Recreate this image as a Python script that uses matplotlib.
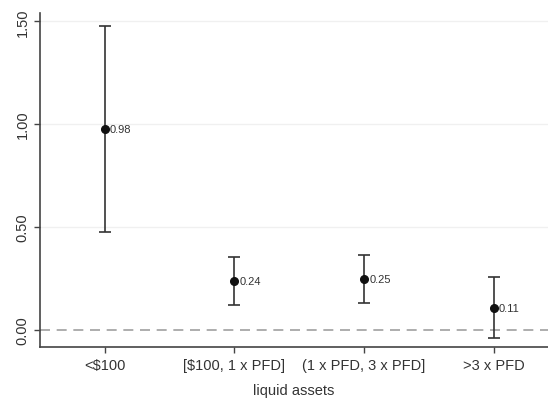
import matplotlib.pyplot as plt
import numpy as np

plt.rcParams['font.family'] = ['Liberation Sans', 'DejaVu Sans']

# -------------------- Data ----------------------- #
categories = ['<$100', '[$100, 1 x PFD]', '(1 x PFD, 3 x PFD]', '>3 x PFD']
estimates = [0.975, 0.237, 0.245, 0.107]
ci_low = [0.474, 0.12, 0.131, -0.04]
ci_high = [1.477, 0.352, 0.365, 0.257]
point_labels = ['0.98', '0.24', '0.25', '0.11']
y_ticks = [0.0, 0.5, 1.0, 1.5]
y_ticklabels = ['0.00', '0.50', '1.00', '1.50']

# -------------------- Plot ----------------------- #
fig = plt.figure(figsize=(5.48, 4.02), dpi=100)
ax = fig.add_axes([0.073, 0.134, 0.927, 0.831])

x = np.arange(1, len(categories) + 1)
est = np.array(estimates)
yerr = [est - np.array(ci_low), np.array(ci_high) - est]

ax.axhline(0, color='#a0a0a0', linestyle=(0, (6, 4)), linewidth=1.2, zorder=1)
for t in y_ticks[1:]:
    ax.axhline(t, color='#f0f0f0', linewidth=1.0, zorder=0)

ax.errorbar(x, est, yerr=yerr, fmt='o', color='#111111', ecolor='#333333',
            markersize=5.5, elinewidth=1.2, capsize=4, capthick=1.2, zorder=3)
for xi, yi, lab in zip(x, est, point_labels):
    ax.text(xi + 0.04, yi, lab, va='center', ha='left', fontsize=8, color='#333333')

ax.set_xlim(0.5, 4.42)
ax.set_ylim(-0.085, 1.54)
ax.set_xticks(x)
ax.set_xticklabels(categories, fontsize=10.5, color='#333333')
ax.set_yticks(y_ticks)
ax.set_yticklabels(y_ticklabels, rotation=90, va='center', fontsize=10.5, color='#333333')
ax.set_xlabel('liquid assets', fontsize=10.5, color='#333333', labelpad=8)

for s in ['top', 'right']:
    ax.spines[s].set_visible(False)
for s in ['left', 'bottom']:
    ax.spines[s].set_color('#444444')
    ax.spines[s].set_linewidth(1.2)
ax.tick_params(axis='both', length=4, color='#444444', width=1.0)

fig.savefig('out.png', dpi=100)
